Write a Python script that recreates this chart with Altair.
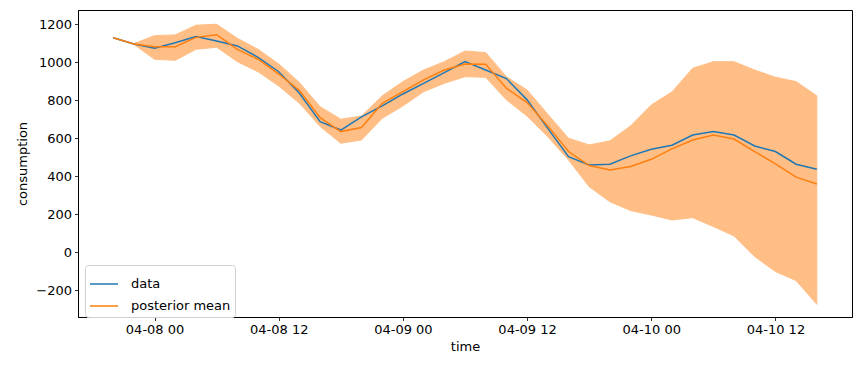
import altair as alt
import pandas as pd

# 2-hourly timestamps, 2017-04-07 20:00 .. 2017-04-10 16:00
times = pd.date_range("2017-04-07 20:00", periods=35, freq="2h").strftime("%Y-%m-%dT%H:%M:%SZ").tolist()

data_vals = [1129, 1096, 1074, 1103, 1135, 1112, 1086, 1026, 950, 837,
             687, 643, 712, 770, 833, 889, 945, 1003, 959, 914,
             802, 652, 503, 459, 463, 507, 542, 563, 617, 635,
             617, 559, 530, 463, 437]
mean_vals = [1129, 1096, 1082, 1082, 1131, 1145, 1068, 1016, 938, 851,
             708, 635, 656, 784, 845, 907, 959, 991, 989, 863,
             788, 665, 530, 456, 433, 451, 489, 544, 591, 617,
             596, 530, 465, 395, 359]
upper_vals = [1129, 1098, 1140, 1144, 1195, 1200, 1126, 1068, 991, 893,
              766, 700, 717, 823, 898, 959, 1003, 1059, 1051, 924,
              854, 726, 600, 565, 586, 665, 775, 844, 968, 1003,
              1003, 959, 921, 898, 823]
lower_vals = [1129, 1094, 1016, 1010, 1068, 1079, 1003, 950, 875, 784,
              662, 574, 591, 705, 770, 845, 889, 924, 921, 802,
              717, 608, 486, 345, 266, 219, 196, 170, 182, 135,
              86, -23, -102, -149, -274]

series_names = ["data", "posterior mean"]
series_colors = ["#1f77b4", "#ff7f0e"]
y_ticks = [-200, 0, 200, 400, 600, 800, 1000, 1200]
x_tick_days = [(8, 0), (8, 12), (9, 0), (9, 12), (10, 0), (10, 12)]

band_df = pd.DataFrame({"time": times, "lower": lower_vals, "upper": upper_vals})
line_df = pd.concat([
    pd.DataFrame({"time": times, "value": data_vals, "series": "data"}),
    pd.DataFrame({"time": times, "value": mean_vals, "series": "posterior mean"}),
])

font = "DejaVu Sans"
fs = 13

x_scale = alt.Scale(
    type="utc",
    domain=[alt.DateTime(year=2017, month=4, date=7, hours=16, minutes=36, utc=True),
            alt.DateTime(year=2017, month=4, date=10, hours=19, minutes=24, utc=True)],
)
y_scale = alt.Scale(domain=[-341, 1275], nice=False, zero=False)

x_axis = alt.Axis(title="time", format="%m-%d %H",
                  values=[alt.DateTime(year=2017, month=4, date=d, hours=h, utc=True) for d, h in x_tick_days],
                  grid=False, labelFlush=False)
y_axis = alt.Axis(title="consumption", values=y_ticks, grid=False, format="d")

band = alt.Chart(band_df).mark_area(
    color="#ff7f0e", opacity=0.5, stroke="#ff7f0e", strokeWidth=1
).encode(
    x=alt.X("time:T", scale=x_scale, axis=x_axis),
    y=alt.Y("lower:Q", scale=y_scale, axis=y_axis),
    y2="upper:Q",
)

lines = alt.Chart(line_df).mark_line(strokeWidth=1.5).encode(
    x=alt.X("time:T", scale=x_scale),
    y=alt.Y("value:Q", scale=y_scale),
    color=alt.Color("series:N",
                    scale=alt.Scale(domain=series_names, range=series_colors),
                    legend=alt.Legend(title=None, orient="none", legendX=7, legendY=255,
                                      symbolType="stroke", symbolSize=784, symbolStrokeWidth=1.5,
                                      labelOffset=12, fillColor="white", strokeColor="#d0d0d0",
                                      cornerRadius=3, padding=4, rowPadding=0,
                                      labelFontSize=fs, labelFont=font, labelColor="black")),
)

chart = alt.layer(band, lines).properties(
    width=774, height=307,
    autosize=alt.AutoSizeParams(type="none"),
    padding={"left": 70, "top": 2, "right": 2, "bottom": 46},
).configure_view(
    stroke="black", strokeWidth=1
).configure_axis(
    labelFont=font, titleFont=font, labelFontSize=fs, titleFontSize=fs,
    titleFontWeight="normal", labelColor="black", titleColor="black",
    tickColor="black", tickSize=3.5, tickWidth=0.8, domainColor="black",
    domainWidth=0.8, labelPadding=3,
).configure_axisX(titlePadding=4).configure_axisY(titlePadding=6)

chart.save("out.html", embed_options={"renderer": "svg", "actions": False})
